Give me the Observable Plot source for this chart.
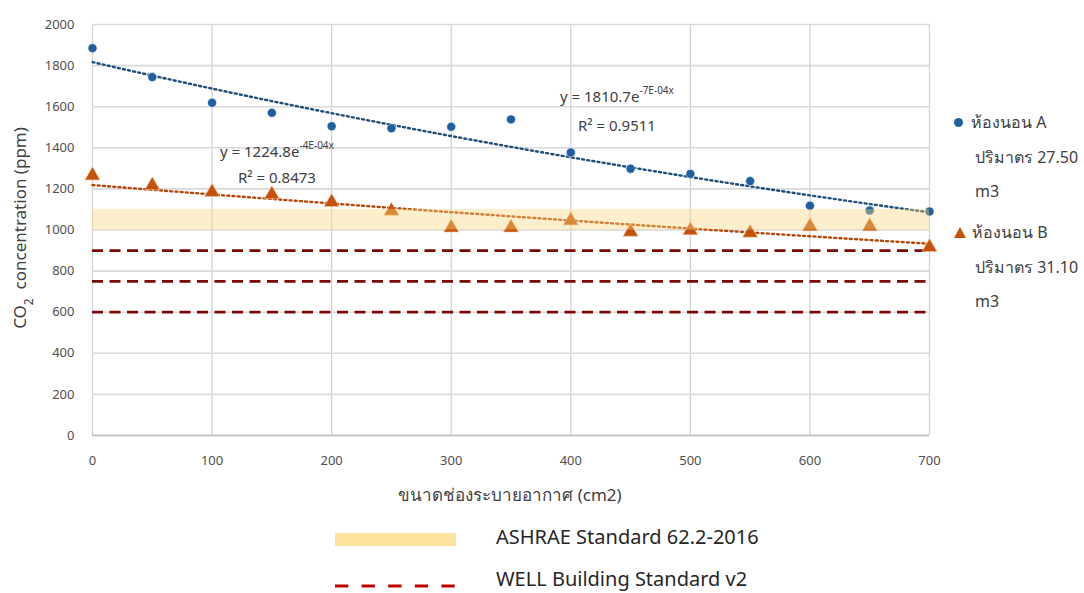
<!DOCTYPE html>
<html><head><meta charset="utf-8">
<script src="https://cdn.jsdelivr.net/npm/d3@7"></script>
<script src="https://cdn.jsdelivr.net/npm/@observablehq/plot@0.6"></script>
<style>
body{margin:0;background:#fff;font-family:"Noto Sans","DejaVu Sans",sans-serif;color:#404040}
#wrap{position:relative;width:1084px;height:593px;overflow:hidden;background:#fff}
#wrap svg{position:absolute;left:0;top:0}
.t{position:absolute;white-space:nowrap;line-height:1}
.eq{font-size:15px;color:#404040}
.eq sup{font-size:10px;position:relative;top:-2px}
.leg{font-size:16px;color:#404040}
.bl{font-size:20px;color:#262626}
</style></head><body><div id="wrap"></div>
<script>
// ---- data ----
const ventArea = [0,50,100,150,200,250,300,350,400,450,500,550,600,650,700];
const roomA = [1885,1744,1619,1570,1505,1495,1502,1538,1377,1298,1273,1238,1118,1095,1090];
const roomB = [1265,1217,1184,1173,1135,1093,1011,1011,1046,991,998,986,1017,1017,916];
const yTicks = [0,200,400,600,800,1000,1200,1400,1600,1800,2000];
const xTicks = [0,100,200,300,400,500,600,700];
const ashraeBand = [1000,1100];
const wellLevels = [600,750,900];
const seriesNames = ["ห้องนอน A", "ห้องนอน B"];
const seriesVolumes = ["ปริมาตร 27.50", "ปริมาตร 31.10"];
const eqA = ["y = 1810.7e", "-7E-04x", "R² = 0.9511"];
const eqB = ["y = 1224.8e", "-4E-04x", "R² = 0.8473"];
const xTitle = "ขนาดช่องระบายอากาศ (cm2)";
const legendBottom = ["ASHRAE Standard 62.2-2016", "WELL Building Standard v2"];

// ---- tables ----
const ptsA = ventArea.map((x,i)=>({x, y: roomA[i]}));
const ptsB = ventArea.map((x,i)=>({x, y: roomB[i]}));

// exponential trend (least squares on ln y), like a spreadsheet trendline
function expFit(pts){
  const mx = d3.mean(pts, d=>d.x), my = d3.mean(pts, d=>Math.log(d.y));
  let sxy=0, sxx=0;
  for (const d of pts){ sxy += (d.x-mx)*(Math.log(d.y)-my); sxx += (d.x-mx)**2; }
  const b = sxy/sxx, a = Math.exp(my - b*mx);
  const [x0,x1] = d3.extent(pts, d=>d.x);
  return d3.range(x0, x1+0.001, 5).map(x=>({x, y: a*Math.exp(b*x)}));
}
const trendA = expFit(ptsA), trendB = expFit(ptsB);
const xDom = d3.extent(ventArea);

const blue = "#1f5fa0", orange = "#c4520c";

const chart = Plot.plot({
  width: 1084, height: 593,
  marginLeft: 92, marginRight: 155, marginTop: 24, marginBottom: 158,
  style: {fontFamily: '"Noto Sans","DejaVu Sans",sans-serif', fontSize: "13px", color: "#505050", background: "#fff"},
  x: {domain: xDom, ticks: xTicks, tickSize: 0, tickPadding: 20, label: null},
  y: {domain: [0, 2000], ticks: yTicks, tickSize: 0, tickPadding: 18, label: null},
  marks: [
    Plot.gridX(xTicks, {stroke: "#d4d4d4", strokeOpacity: 1, strokeWidth: 1.3}),
    Plot.gridY(yTicks, {stroke: "#d9d9d9", strokeOpacity: 1, strokeWidth: 1.6}),
    Plot.ruleY([0], {stroke: "#bfbfbf", strokeWidth: 1.5}),
    Plot.axisX({ticks: xTicks, tickSize: 0, tickPadding: 20, label: null, tickFormat: d3.format("d")}),
    Plot.axisY({ticks: yTicks, tickSize: 0, tickPadding: 18, label: null, tickFormat: d3.format("d")}),
    Plot.ruleY(wellLevels, {x1: xDom[0], x2: xDom[1], stroke: "#7a0a0a", strokeWidth: 2.8, strokeDasharray: "11,6.5"}),
    Plot.line(trendA, {x: "x", y: "y", stroke: "#1f4e79", strokeWidth: 2.4, strokeDasharray: "2,3.2"}),
    Plot.line(trendB, {x: "x", y: "y", stroke: "#b5470b", strokeWidth: 2.4, strokeDasharray: "2,3.2"}),
    Plot.dot(ptsA, {x: "x", y: "y", r: 4.5, fill: blue, stroke: "#ffffff", strokeWidth: 0.5}),
    Plot.dot(ptsB, {x: "x", y: "y", symbol: "triangle", r: 5.6, fill: orange, stroke: "#f6c79a", strokeWidth: 0.6}),
    Plot.rect([ashraeBand], {x1: xDom[0], x2: xDom[1], y1: d=>d[0], y2: d=>d[1], fill: "#f9d77e", fillOpacity: 0.4})
  ]
});
const wrap = document.getElementById("wrap");
wrap.appendChild(chart);

function addText(html, cls, left, top, extra){
  const d = document.createElement("div");
  d.className = "t " + cls;
  d.innerHTML = html;
  d.style.left = left + "px"; d.style.top = top + "px";
  if (extra) Object.assign(d.style, extra);
  wrap.appendChild(d);
  return d;
}
// equations
addText(`${eqA[0]}<sup>${eqA[1]}</sup>`, "eq", 560, 87);
addText(eqA[2], "eq", 578, 118);
addText(`${eqB[0]}<sup>${eqB[1]}</sup>`, "eq", 220, 142);
addText(eqB[2], "eq", 238, 170);

// y title
addText(`CO<sub style="font-size:12px;position:relative;top:3px">2</sub>&nbsp; concentration (ppm)`, "", 22, 228,
  {fontSize: "17px", color: "#404040", transform: "translate(-50%,-50%) rotate(-90deg)"});
// x title
addText(xTitle, "", 510, 486, {fontSize: "17px", color: "#404040", transform: "translateX(-50%)"});

// right legend
addText(`<span style="display:inline-block;width:9px;height:9px;border-radius:50%;background:${blue};margin-right:8px;vertical-align:middle;position:relative;top:-1px"></span>${seriesNames[0]}`, "leg", 954, 114);
addText(seriesVolumes[0], "leg", 975, 149);
addText("m3", "leg", 975, 183);
addText(`<svg width="12" height="11" style="margin-right:6px;vertical-align:middle;position:relative;top:-1px"><polygon points="6,0 12,11 0,11" fill="${orange}"/></svg>${seriesNames[1]}`, "leg", 954, 224);
addText(seriesVolumes[1], "leg", 975, 259);
addText("m3", "leg", 975, 293);

// bottom legend
addText(`<span style="display:inline-block;width:121px;height:13px;background:#fde49c"></span>`, "", 335, 532);
addText(legendBottom[0], "bl", 496, 527);
addText(`<svg width="125" height="6"><line x1="0" y1="3" x2="125" y2="3" stroke="#c00000" stroke-width="3" stroke-dasharray="13.3,13.3"/></svg>`, "", 335, 583);
addText(legendBottom[1], "bl", 496, 569);
</script></body></html>
